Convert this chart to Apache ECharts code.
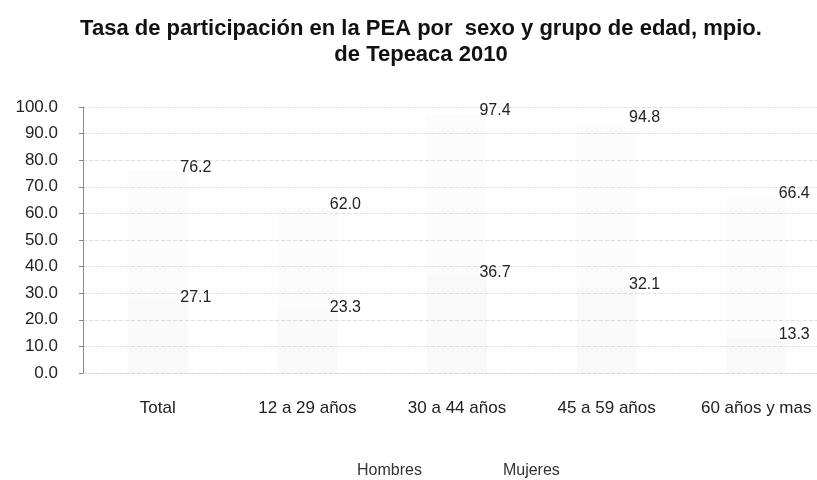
<!DOCTYPE html>
<html>
<head>
<meta charset="utf-8">
<script src="https://cdn.jsdelivr.net/npm/echarts@6/dist/echarts.min.js"></script>
<style>
  html, body { margin: 0; padding: 0; background: #fff; }
  #chart { width: 817px; height: 480px; }
</style>
</head>
<body>
<div id="chart"></div>
<script>
// categorías y valores (tasa de participación, %)
const categories = ['Total', '12 a 29 años', '30 a 44 años', '45 a 59 años', '60 años y mas']
const hombres = [76.2, 62.0, 97.4, 94.8, 66.4]
const mujeres = [27.1, 23.3, 36.7, 32.1, 13.3]
const seriesNames = ['Hombres', 'Mujeres']

const FONT = '"Liberation Sans", Arial, sans-serif'

const myChart = echarts.init(document.getElementById('chart'))

// etiqueta de valor, desplazada a la derecha del grupo
const valueLabel = {
  show: true,
  position: 'top',
  distance: 0,
  offset: [38, 5],
  fontFamily: FONT,
  fontSize: 16,
  color: '#222',
  formatter: p => p.value.toFixed(1)
}

const options = {
  animation: false,
  backgroundColor: '#fff',
  title: {
    text: 'Tasa de participación en la PEA por  sexo y grupo de edad, mpio.\nde Tepeaca 2010',
    left: 416,
    textAlign: 'center',
    top: 11,
    textStyle: {
      fontFamily: FONT,
      fontSize: 22,
      fontWeight: 'bold',
      color: '#111',
      lineHeight: 26
    }
  },
  legend: {
    data: seriesNames,
    left: 347,
    top: 458,
    itemWidth: 0,
    itemHeight: 0,
    itemGap: 76,
    icon: 'rect',
    textStyle: {
      fontFamily: FONT,
      fontSize: 16,
      color: '#333'
    }
  },
  grid: {
    left: 83,
    top: 107,
    height: 266,
    width: 748,
    outerBoundsMode: 'none'
  },
  xAxis: {
    type: 'category',
    data: categories,
    axisTick: { show: false },
    axisLine: {
      lineStyle: { color: '#d8d8d8', type: 'dashed' }
    },
    axisLabel: {
      margin: 27,
      fontFamily: FONT,
      fontSize: 17,
      color: '#222'
    }
  },
  yAxis: {
    type: 'value',
    min: 0,
    max: 100,
    interval: 10,
    axisLine: {
      show: true,
      lineStyle: { color: '#888' }
    },
    axisTick: {
      show: true,
      length: 4,
      lineStyle: { color: '#888' }
    },
    axisLabel: {
      margin: 25,
      fontFamily: FONT,
      fontSize: 17,
      color: '#222',
      formatter: v => v.toFixed(1)
    },
    splitLine: {
      lineStyle: { color: '#e2e2e2', type: 'dashed' }
    }
  },
  series: [
    {
      name: 'Hombres',
      type: 'bar',
      data: hombres,
      barWidth: 60,
      barGap: '-100%',
      itemStyle: { color: 'rgba(0,0,0,0.01)' },
      label: valueLabel
    },
    {
      name: 'Mujeres',
      type: 'bar',
      data: mujeres,
      barWidth: 60,
      barGap: '-100%',
      itemStyle: { color: 'rgba(0,0,0,0.01)' },
      label: valueLabel
    }
  ]
}

myChart.setOption(options)
</script>
</body>
</html>
